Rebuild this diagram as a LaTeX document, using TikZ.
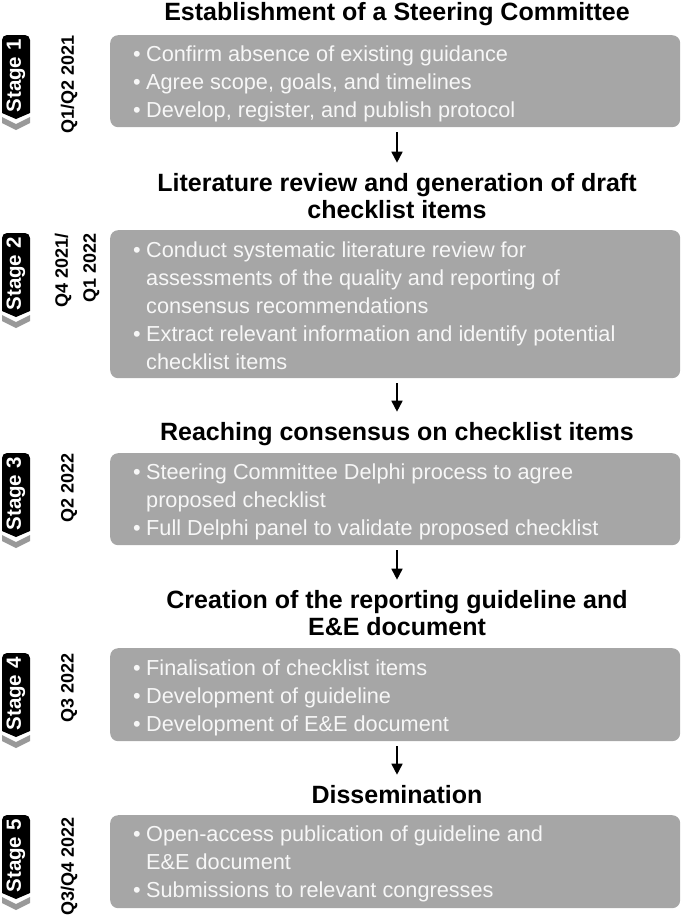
\documentclass[tikz,border=0pt]{standalone}
\usepackage{fontspec}
\setmainfont{Liberation Sans}
\usetikzlibrary{arrows.meta}
\definecolor{boxgray}{HTML}{A6A6A6}
\definecolor{chevgray}{HTML}{999999}
\definecolor{listwhite}{HTML}{F7F7F7}
\newcommand\bl[1]{\hbox{\makebox[13pt][l]{•}#1}}
\newcommand\cl[1]{\hbox{\hspace*{13pt}#1}}
\newcommand\ctwo[2]{\vtop{\halign{\hfil##\hfil\cr #1\cr #2\cr}}}
\newcommand\stagemark[3]{%
  \fill[black] (2,#1+78) [rounded corners=5pt] -- (2,#1) -- (30,#1) [sharp corners] -- (30,#1+78) -- (16,#1+84) -- cycle;
  \fill[chevgray] (2,#1+82) -- (16,#1+89) -- (30,#1+82) -- (30,#1+88) -- (16,#1+95) -- (2,#1+88) -- cycle;
  \node[stagetxt] (#3) at (16,#1+41) {#2};
}
\begin{document}
\begin{tikzpicture}[x=1pt,y=-1pt,
  box/.style={fill=boxgray, rounded corners=8pt, minimum width=570pt, inner sep=0pt, anchor=north west},
  titletxt/.style={font=\fontsize{25}{27}\selectfont\bfseries, inner sep=0pt, anchor=base},
  listtxt/.style={font=\fontsize{21.7}{28}\selectfont, text=listwhite, inner sep=0pt, anchor=base west},
  stagetxt/.style={font=\fontsize{20.5}{24}\selectfont\bfseries, text=white, rotate=90, inner sep=0pt},
  datetxt/.style={font=\fontsize{18}{28}\selectfont\bfseries, rotate=90, anchor=east, inner sep=0pt, align=right},
  arr/.style={line width=1.7pt, -{Triangle[length=11pt,width=11pt]}}]
\useasboundingbox (0,0) rectangle (685,918);

% titles
\node[titletxt] (t1) at (397,20) {Establishment of a Steering Committee};
\node[titletxt] (t2) at (397,191) {\ctwo{Literature review and generation of draft}{checklist items}};
\node[titletxt] (t3) at (397,440) {Reaching consensus on checklist items};
\node[titletxt] (t4) at (397,608) {\ctwo{Creation of the reporting guideline and}{E\&E document}};
\node[titletxt] (t5) at (397,803) {Dissemination};

% boxes
\node[box, minimum height=92pt] (b1) at (110,35) {};
\node[box, minimum height=148pt] (b2) at (110,230) {};
\node[box, minimum height=92pt] (b3) at (110,453) {};
\node[box, minimum height=93pt] (b4) at (110,648) {};
\node[box, minimum height=93pt] (b5) at (110,815) {};

% lists
\node[listtxt] (l1) at (133,61) {\vtop{%
  \bl{Confirm absence of existing guidance}
  \bl{Agree scope, goals, and timelines}
  \bl{Develop, register, and publish protocol}}};
\node[listtxt] (l2) at (133,257) {\vtop{%
  \bl{Conduct systematic literature review for}
  \cl{assessments of the quality and reporting of}
  \cl{consensus recommendations}
  \bl{Extract relevant information and identify potential}
  \cl{checklist items}}};
\node[listtxt] (l3) at (133,479) {\vtop{%
  \bl{Steering Committee Delphi process to agree}
  \cl{proposed checklist}
  \bl{Full Delphi panel to validate proposed checklist}}};
\node[listtxt] (l4) at (133,675) {\vtop{%
  \bl{Finalisation of checklist items}
  \bl{Development of guideline}
  \bl{Development of E\&E document}}};
\node[listtxt] (l5) at (133,841) {\vtop{%
  \bl{Open-access publication of guideline and}
  \cl{E\&E document}
  \bl{Submissions to relevant congresses}}};

% arrows
\draw[arr] (b1.south -| t2.north) ++(0,5) -- ([yshift=10pt]t2.north);
\draw[arr] (b2.south -| t3.north) ++(0,5) -- ([yshift=10pt]t3.north);
\draw[arr] (b3.south -| t4.north) ++(0,5) -- ([yshift=10pt]t4.north);
\draw[arr] (b4.south -| t5.north) ++(0,5) -- ([yshift=10pt]t5.north);

% stage markers
\stagemark{35}{Stage 1}{s1}
\stagemark{233}{Stage 2}{s2}
\stagemark{453}{Stage 3}{s3}
\stagemark{653}{Stage 4}{s4}
\stagemark{815}{Stage 5}{s5}

% dates
\node[datetxt] (d1) at (69,35) {Q1/Q2 2021};
\node[datetxt] (d2) at (77,233) {Q4 2021/\\Q1 2022};
\node[datetxt] (d3) at (69,453) {Q2 2022};
\node[datetxt] (d4) at (69,653) {Q3 2022};
\node[datetxt] (d5) at (69,817) {Q3/Q4 2022};
\end{tikzpicture}
\end{document}
